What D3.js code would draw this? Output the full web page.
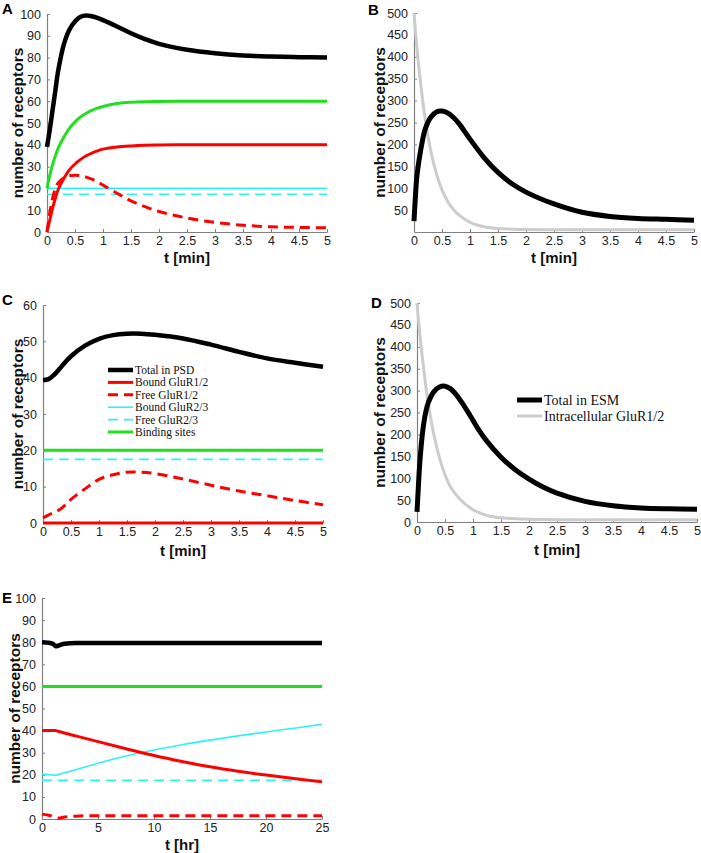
<!DOCTYPE html>
<html>
<head>
<meta charset="utf-8">
<script src="https://cdn.jsdelivr.net/npm/d3@7"></script>
<style>
  html, body { margin: 0; padding: 0; background: #fff; }
  svg { display: block; }
</style>
</head>
<body>
<svg id="chart" width="701" height="853"></svg>
<script>
// ---------------- DATA ----------------
// Panel A (t in min)
const tA = [0,0.05,0.1,0.15,0.2,0.3,0.4,0.5,0.6,0.7,0.8,0.9,1.0,1.25,1.5,1.75,2,2.5,3,3.5,4,4.5,5];
const aTotal     = [39,47,56,65,74,86,92.8,96.6,98.7,99.3,99,98.2,97.2,94.3,91.2,88.5,86.3,83.6,82,81,80.5,80.2,80];
const aBinding   = [20,26,31,35,38.5,43.5,47.5,50.5,52.8,54.5,55.8,56.8,57.6,58.9,59.5,59.8,59.9,60,60,60,60,60,60];
const aBound12   = [0,5.5,11,15.5,19.5,24.5,28.5,31.2,33.3,35,36.2,37.2,38,39,39.5,39.8,39.9,40,40,40,40,40,40];
const aFree12    = [0,9,15.5,20,22.5,24.8,25.8,26,25.8,25.2,24.2,23,21.5,17.8,14.3,11.6,9.4,6.4,4.4,3.1,2.4,2.1,1.9];
const aBound23   = [20,20,20,20,20,20,20,20,20,20,20,20,20,20,20,20,20,20,20,20,20,20,20];
const aFree23    = [17.3,17.3,17.3,17.3,17.3,17.3,17.3,17.3,17.3,17.3,17.3,17.3,17.3,17.3,17.3,17.3,17.3,17.3,17.3,17.3,17.3,17.3,17.3];

// Panel B (t in min)
const tB = [0,0.02,0.05,0.1,0.15,0.2,0.3,0.4,0.5,0.6,0.7,0.8,1.0,1.25,1.5,1.75,2,2.5,3,3.5,4,4.5,5];
const bTotalESM  = [25,70,125,172,208,235,262,274,276,272,262,248,212,170,136,110,91,64,45,35.5,31,29,27];
const bIntra     = [500,468,424,360,305,258,185,133,96,70,52,39,22,12,8,6.5,5.5,5,5,5,5,5,5];

// Panel C (t in min)
const tC = [0,0.1,0.2,0.3,0.4,0.5,0.75,1,1.25,1.5,1.75,2,2.5,3,3.5,4,4.5,5];
const cTotal     = [39.3,39.6,40.8,42.5,44.3,45.9,48.8,50.7,51.7,52.1,52.1,51.8,50.8,49.1,47.1,45.3,44.1,43];
const cBound12   = [0,0,0,0,0,0,0,0,0,0,0,0,0,0,0,0,0,0];
const cFree12    = [1.4,2.2,3,3.7,5,6.5,9.4,12,13.3,14,14,13.6,12.1,10.4,8.8,7.5,6.2,5];
const cBound23   = [20,20,20,20,20,20,20,20,20,20,20,20,20,20,20,20,20,20];
const cFree23    = [17.5,17.5,17.5,17.5,17.5,17.5,17.5,17.5,17.5,17.5,17.5,17.5,17.5,17.5,17.5,17.5,17.5,17.5];
const cBinding   = [20,20,20,20,20,20,20,20,20,20,20,20,20,20,20,20,20,20];

// Panel D (t in min)
const tD = [0,0.02,0.05,0.1,0.15,0.2,0.3,0.4,0.5,0.6,0.7,0.8,0.9,1.0,1.1,1.25,1.5,1.75,2,2.25,2.5,3,3.5,4,4.5,5];
const dTotalESM  = [23,70,135,205,247,272,297,308,310,304,291,273,253,232,211,184,148,120,98,80,66,47,37,32,30,29];
const dIntra     = [500,470,430,370,318,272,200,147,108,80,62,48,37,28,22,15,9.5,7.5,6.3,5.7,5.3,5,5,5,5,5];

// Panel E (t in hr)
const tE = [0,0.5,1,1.2,1.5,2,3,5,7.5,10,12.5,15,17.5,20,22.5,25];
const eTotal     = [80,79.8,79.2,78.2,78.5,79.3,79.6,79.6,79.6,79.6,79.6,79.6,79.6,79.6,79.6,79.6];
const eBinding   = [60,60,60,60,60,60,60,60,60,60,60,60,60,60,60,60];
const eBound12   = [40,40,40,40,39.6,38.9,37.6,35,31.8,28.7,26,23.6,21.6,19.9,18.3,16.8];
const eFree12    = [2.2,1.8,1.2,0.8,0.4,0.9,1.3,1.5,1.5,1.5,1.5,1.5,1.5,1.5,1.5,1.5];
const eBound23   = [20.3,20.1,19.9,19.8,20.2,20.9,22.3,25.2,28.5,31.2,33.6,35.7,37.6,39.4,41.1,42.8];
const eFree23    = [17.5,17.5,17.5,17.5,17.5,17.5,17.5,17.5,17.5,17.5,17.5,17.5,17.5,17.5,17.5,17.5];

// Tick labels
const xTicksMin = [0,0.5,1,1.5,2,2.5,3,3.5,4,4.5,5];
const xTicksHr  = [0,5,10,15,20,25];
const yTicks100 = [0,10,20,30,40,50,60,70,80,90,100];
const yTicks60  = [0,10,20,30,40,50,60];
const yTicksB   = [50,100,150,200,250,300,350,400,450,500];
const yTicksD   = [0,50,100,150,200,250,300,350,400,450,500];

const legendC = ["Total in PSD","Bound GluR1/2","Free GluR1/2","Bound GluR2/3","Free GluR2/3","Binding sites"];
const legendD = ["Total in ESM","Intracellular GluR1/2"];

// ---------------- STYLES ----------------
const ST = {
  total:   {stroke:"#000000", w:4.5, dash:null},
  bound12: {stroke:"#ff0000", w:3,   dash:null},
  free12:  {stroke:"#ff0000", w:3,   dash:"10,6"},
  bound23: {stroke:"#2ef2f5", w:1.6, dash:null},
  free23:  {stroke:"#2ef2f5", w:1.6, dash:"10,6"},
  binding: {stroke:"#1fe01f", w:3,   dash:null},
  esm:     {stroke:"#000000", w:5,   dash:null},
  intra:   {stroke:"#cccccc", w:3,   dash:null}
};

const svg = d3.select("#chart");
const SANS = "'Liberation Sans', Arial, Helvetica, sans-serif";
const SERIF = "'Liberation Serif', 'Times New Roman', serif";

function panel(cfg) {
  const x = d3.scaleLinear().domain(cfg.xd).range([cfg.x0, cfg.x1]);
  const y = d3.scaleLinear().domain(cfg.yd).range([cfg.y0, cfg.y1]);
  const g = svg.append("g");

  // axes
  const xa = g.append("g").attr("transform", `translate(0,${cfg.y0})`)
    .call(d3.axisBottom(x).tickValues(cfg.xt).tickSizeInner(-3).tickSizeOuter(0).tickPadding(4)
      .tickFormat(d => String(d)));
  const ya = g.append("g").attr("transform", `translate(${cfg.x0},0)`)
    .call(d3.axisLeft(y).tickValues(cfg.yt).tickSizeInner(-3).tickSizeOuter(0).tickPadding(6)
      .tickFormat(d => String(d)));
  [xa, ya].forEach(a => {
    a.select(".domain").attr("stroke", "#808080").attr("stroke-width", 1.2);
    a.selectAll(".tick line").attr("stroke", "#808080");
    a.selectAll(".tick text").attr("fill", "#222").attr("font-family", SANS).attr("font-size", 12.5);
  });

  // lines
  const curve = cfg.curve || d3.curveCatmullRom.alpha(0.5);
  cfg.series.forEach(s => {
    const st = ST[s.style];
    const line = d3.line().x((d,i) => x(s.t[i])).y(d => y(d)).curve(curve);
    g.append("path").datum(s.v)
      .attr("d", line).attr("fill", "none")
      .attr("stroke", st.stroke).attr("stroke-width", st.w)
      .attr("stroke-dasharray", st.dash)
      .attr("stroke-linejoin", "round");
  });

  // axis titles
  g.append("text").attr("x", (cfg.x0 + cfg.x1) / 2).attr("y", cfg.xtY)
    .attr("text-anchor", "middle").attr("font-family", SANS).attr("font-weight", "bold")
    .attr("font-size", 15).attr("fill", "#111").text(cfg.xlabel);
  g.append("text")
    .attr("transform", `translate(${cfg.ylX},${(cfg.y0 + cfg.y1) / 2}) rotate(-90)`)
    .attr("text-anchor", "middle").attr("dy", "0.35em").attr("font-family", SANS).attr("font-weight", "bold")
    .attr("font-size", 15.5).attr("fill", "#111").text("number of receptors");
  // panel letter
  g.append("text").attr("x", cfg.lx).attr("y", cfg.ly)
    .attr("font-family", SANS).attr("font-weight", "bold").attr("font-size", 15)
    .attr("fill", "#000").text(cfg.letter);

  // legend
  if (cfg.legend) {
    const L = cfg.legend;
    L.items.forEach((name, i) => {
      const st = ST[L.styles[i]];
      const yy = L.y + i * L.dy;
      g.append("line").attr("x1", L.x).attr("x2", L.x + L.len).attr("y1", yy).attr("y2", yy)
        .attr("stroke", st.stroke).attr("stroke-width", st.w).attr("stroke-dasharray", st.dash);
      g.append("text").attr("x", L.x + L.len + 2).attr("y", yy).attr("dy", "0.35em")
        .attr("font-family", SERIF).attr("font-size", L.fs).attr("fill", "#111").text(name);
    });
  }
}

// A
panel({
  letter:"A", lx:2, ly:14, xd:[0,5], yd:[0,100], x0:47, x1:327, y0:232, y1:14,
  xt:xTicksMin, yt:yTicks100, xlabel:"t [min]", xtY:263, ylX:18,
  series:[
    {t:tA, v:aBound23, style:"bound23"},
    {t:tA, v:aFree23, style:"free23"},
    {t:tA, v:aBound12, style:"bound12"},
    {t:tA, v:aFree12, style:"free12"},
    {t:tA, v:aBinding, style:"binding"},
    {t:tA, v:aTotal, style:"total"}
  ]
});
// B
panel({
  letter:"B", lx:368, ly:15, xd:[0,5], yd:[0,500], x0:414, x1:694, y0:232, y1:13,
  xt:xTicksMin, yt:yTicksB, xlabel:"t [min]", xtY:263, ylX:380,
  series:[
    {t:tB, v:bIntra, style:"intra"},
    {t:tB, v:bTotalESM, style:"esm"}
  ]
});
// C
panel({
  letter:"C", lx:2, ly:305, xd:[0,5], yd:[0,60], x0:43, x1:323, y0:523, y1:305,
  xt:xTicksMin, yt:yTicks60, xlabel:"t [min]", xtY:556, ylX:18,
  series:[
    {t:tC, v:cBound23, style:"bound23"},
    {t:tC, v:cFree23, style:"free23"},
    {t:tC, v:cBound12, style:"bound12"},
    {t:tC, v:cFree12, style:"free12"},
    {t:tC, v:cBinding, style:"binding"},
    {t:tC, v:cTotal, style:"total"}
  ],
  legend:{x:108, len:25, y:370, dy:12.4, fs:11.5, items:legendC,
    styles:["total","bound12","free12","bound23","free23","binding"]}
});
// D
panel({
  letter:"D", lx:371, ly:308, xd:[0,5], yd:[0,500], x0:417, x1:697, y0:522, y1:303,
  xt:xTicksMin, yt:yTicksD, xlabel:"t [min]", xtY:555, ylX:380,
  series:[
    {t:tD, v:dIntra, style:"intra"},
    {t:tD, v:dTotalESM, style:"esm"}
  ],
  legend:{x:517, len:25, y:400, dy:16, fs:14, items:legendD, styles:["esm","intra"]}
});
// E
panel({
  letter:"E", lx:2, ly:603, xd:[0,25], yd:[0,100], x0:42, x1:322, y0:819, y1:598,
  xt:xTicksHr, yt:yTicks100, xlabel:"t [hr]", xtY:850, ylX:15, curve:d3.curveMonotoneX,
  series:[
    {t:tE, v:eFree23, style:"free23"},
    {t:tE, v:eBound23, style:"bound23"},
    {t:tE, v:eFree12, style:"free12"},
    {t:tE, v:eBound12, style:"bound12"},
    {t:tE, v:eBinding, style:"binding"},
    {t:tE, v:eTotal, style:"total"}
  ]
});
</script>
</body>
</html>
